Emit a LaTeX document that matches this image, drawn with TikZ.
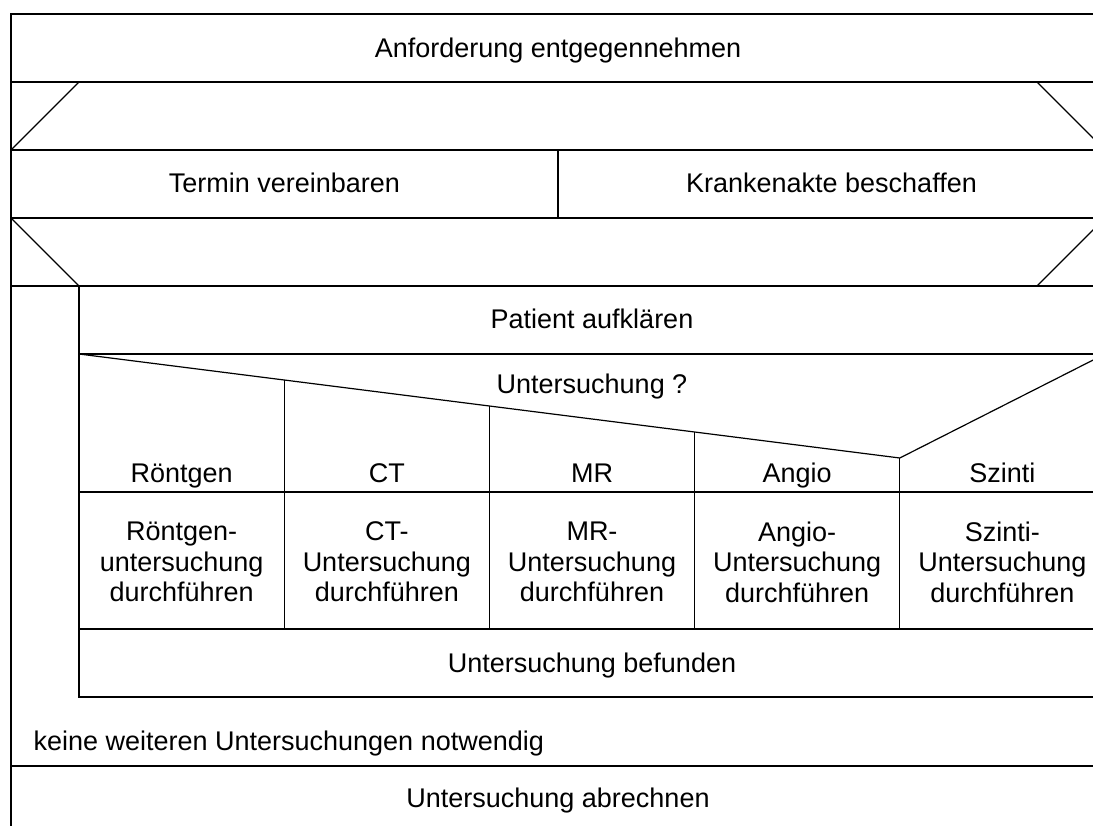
\documentclass[tikz,border=0pt]{standalone}
\usepackage{fontspec}
\setmainfont{Liberation Sans}
\begin{document}
\begin{tikzpicture}[x=1pt,y=-1pt,line width=1.2pt,
  txt/.style={font=\fontsize{27}{30.5}\selectfont,inner sep=0pt,align=center,anchor=base},
  blk/.style={font=\fontsize{27}{30.5}\selectfont,inner sep=0pt,align=center}]
\useasboundingbox (0,0) rectangle (1093,826);
\begin{scope}
\clip (0,0) rectangle (1093,826);
% outer frame and block separators
\draw (1105,14) -- (11,14) -- (11,840);
\foreach \y in {82,150,218,286,766} \draw (11,\y) -- (1105,\y);
% parallel block: fork and join bars
\draw (11,150) -- (79,82);
\draw (1037,82) -- (1105,150);
\draw (11,218) -- (79,286);
\draw (1037,286) -- (1105,218);
\draw (558,150) -- (558,218);
% loop body
\draw (79,286) -- (79,697) -- (1105,697);
\draw (79,354) -- (1105,354);
% case selection
\draw (79,354) -- (899.8,458) -- (1105,354);
\draw (79,492) -- (1105,492);
\draw (79,629) -- (1105,629);
\foreach \x/\y in {284.2/380, 489.4/406, 694.6/432, 899.8/458} \draw (\x,\y) -- (\x,629);
\end{scope}
% texts
\node[txt] (anf) at (558,58) {Anforderung entgegennehmen};
\node[txt] (ter) at (284.5,193) {Termin vereinbaren};
\node[txt] (kra) at (831.5,193) {Krankenakte beschaffen};
\node[txt] (pat) at (592,329) {Patient aufklären};
\node[txt] (sel) at (592,393) {Untersuchung ?};
\node[txt] (c1) at (181.6,482) {Röntgen};
\node[txt] (c2) at (386.8,482) {CT};
\node[txt] (c3) at (592,482) {MR};
\node[txt] (c4) at (797.2,482) {Angio};
\node[txt] (c5) at (1002.4,482) {Szinti};
\node[blk] (a1) at (181.6,562) {Röntgen-\\untersuchung\\durchführen};
\node[blk] (a2) at (386.8,562) {CT-\\Untersuchung\\durchführen};
\node[blk] (a3) at (592,562) {MR-\\Untersuchung\\durchführen};
\node[blk] (a4) at (797.2,562) {Angio-\\Untersuchung\\durchführen};
\node[blk] (a5) at (1002.4,562) {Szinti-\\Untersuchung\\durchführen};
\node[txt] (bef) at (592,672) {Untersuchung befunden};
\node[txt,anchor=base west] (kei) at (33,750) {keine weiteren Untersuchungen notwendig};
\node[txt] (abr) at (558,807) {Untersuchung abrechnen};
\end{tikzpicture}
\end{document}
